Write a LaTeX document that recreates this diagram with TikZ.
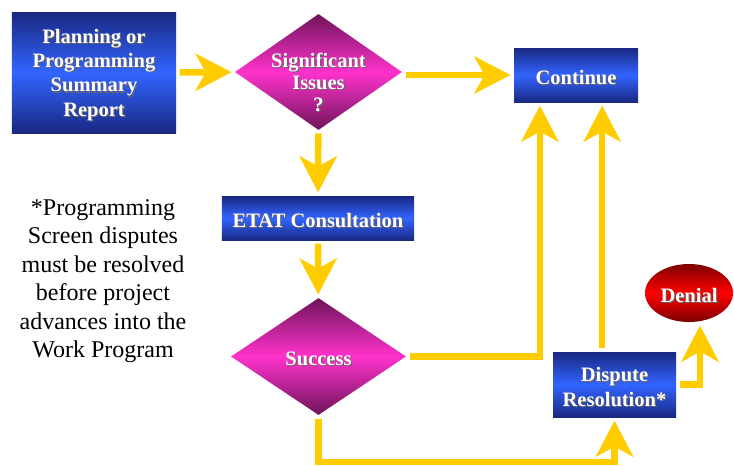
\documentclass[tikz,border=0pt]{standalone}
\usepackage{fontspec}
\setmainfont{Liberation Serif}
\usetikzlibrary{shapes.geometric,arrows.meta,calc}
\definecolor{navyblue}{RGB}{25,40,130}
\definecolor{brightblue}{RGB}{50,100,255}
\definecolor{darkmag}{RGB}{110,20,90}
\definecolor{brightmag}{RGB}{255,50,204}
\definecolor{darkred}{RGB}{125,0,0}
\definecolor{brightred}{RGB}{255,0,0}
\definecolor{gold}{RGB}{255,204,0}
% white text with a grey drop shadow
\newcommand{\shtxt}[1]{\raisebox{-2.5pt}[\height][\depth]{\makebox[0pt][l]{\hspace{1pt}\raisebox{-1pt}{\color{black!60}#1}}#1}}
\begin{document}
\begin{tikzpicture}[x=0.03cm,y=-0.03cm,
	boxtext/.style={text=white,font=\fontsize{17.5}{20.8}\selectfont\bfseries,align=center},
	bluebox/.style={rectangle,inner sep=0pt,top color=navyblue,bottom color=navyblue,middle color=brightblue,boxtext},
	decision/.style={diamond,inner sep=0pt,top color=darkmag,bottom color=darkmag,middle color=brightmag},
	arr/.style={gold,line width=0.195cm,shorten <=0.1cm,shorten >=0.1cm,
		-{Stealth[length=1.08cm,width=1.11cm,inset=0.3cm]}}]
	\useasboundingbox (0,0) rectangle (734,465);
	\node[bluebox,minimum width=4.92cm,minimum height=3.63cm] (plan) at (94,72.5)
		{\shtxt{Planning or}\\\shtxt{Programming}\\\shtxt{Summary}\\\shtxt{Report}};
	\node[decision,minimum width=5.01cm,minimum height=3.48cm,
		label={[boxtext,font=\fontsize{17.5}{18.5}\selectfont\bfseries,yshift=-0.24cm]center:{\shtxt{Significant}\\\shtxt{Issues}\\\shtxt{?}}}] (sig) at (318.5,72) {};
	\node[bluebox,minimum width=3.72cm,minimum height=1.62cm] (cont) at (576,75) {\shtxt{Continue}};
	\node[bluebox,minimum width=5.76cm,minimum height=1.32cm] (etat) at (318,218) {\shtxt{ETAT Consultation}};
	\node[decision,minimum width=5.25cm,minimum height=3.51cm,
		label={[boxtext]center:{\shtxt{Success}}}] (succ) at (318.5,356.5) {};
	\node[bluebox,minimum width=3.69cm,minimum height=1.95cm] (disp) at (614.5,384.5)
		{\shtxt{Dispute}\\\shtxt{Resolution*}};
	\node[ellipse,inner sep=0pt,minimum width=2.64cm,minimum height=1.74cm,
		top color=darkred,bottom color=darkred,middle color=brightred,boxtext] (den) at (689,293) {\shtxt{Denial}};
	\node[align=center,font=\fontsize{20.5}{24.3}\selectfont] (note) at (103,281)
		{*Programming\\Screen disputes\\must be resolved\\before project\\advances into the\\Work Program};
	% connector ends
	\coordinate (c1) at ($(cont.south west)!0.21!(cont.south east)$);
	\coordinate (d1) at ($(disp.north west)!0.4!(disp.north east)$);
	\coordinate (e1) at ($(den.south)+(11,0)$);
	\draw[arr] (plan) -- (sig);
	\draw[arr] (sig.east |- cont) -- (cont);
	\draw[arr] (sig) -- (etat);
	\draw[arr] (etat) -- (succ);
	\draw[arr] (succ.east) -| (c1);
	\draw[arr] (d1) -- (d1 |- cont.south);
	\draw[arr] (succ.south) -- ++(0,47) -| (disp.south);
	\draw[arr] (disp.east) -| (e1);
\end{tikzpicture}
\end{document}
